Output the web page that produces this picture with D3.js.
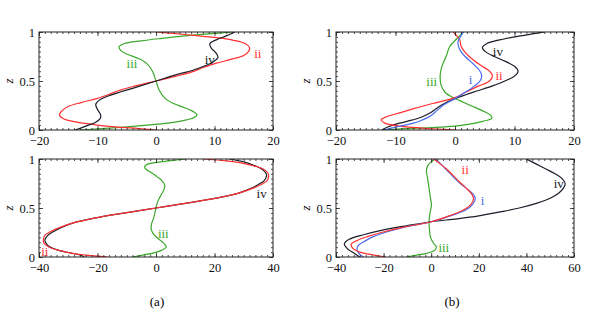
<!DOCTYPE html>
<html>
<head>
<meta charset="utf-8">
<script src="https://cdn.jsdelivr.net/npm/d3@7"></script>
<style>
  body { margin: 0; background: #fff; }
  svg text { font-family: "Liberation Serif", "Times New Roman", "DejaVu Serif", serif !important; }
</style>
</head>
<body>
<div id="chart"></div>
<script>
// each series: [z, value] pairs
var aTop_ii = [[0,0],[0.015,-3],[0.03,-6.5],[0.05,-10],[0.08,-13.5],[0.115,-15.8],[0.155,-16.5],[0.2,-16],[0.24,-15],[0.28,-12.8],[0.32,-10.2],[0.36,-8.2],[0.41,-6],[0.45,-3.5],[0.5,0],
  [0.55,3.5],[0.59,6],[0.64,8.2],[0.68,10.2],[0.72,12.8],[0.76,15],[0.8,15.8],[0.84,16],[0.88,15.3],[0.915,13.3],[0.945,10],[0.965,6.5],[0.985,3],[1,0]];
var aTop_iii = [[0,-13],[0.012,-10],[0.03,-5.5],[0.05,-1.5],[0.07,2],[0.1,5],[0.13,6.6],[0.155,7],[0.19,6.3],[0.23,4.8],[0.27,3],[0.32,1.6],[0.4,0.6],[0.5,0],
  [0.6,-0.6],[0.68,-1.6],[0.73,-3],[0.77,-4.8],[0.81,-6],[0.85,-6.3],[0.88,-5.5],[0.91,-2.5],[0.935,1],[0.96,5],[0.98,9],[1,13.2]];
var aTop_iv = [[0,-13.8],[0.04,-12],[0.08,-10.3],[0.12,-9.5],[0.16,-9.5],[0.21,-10],[0.26,-10.3],[0.3,-9.8],[0.34,-8.5],[0.39,-6],[0.44,-3.2],[0.5,0],
  [0.56,3.2],[0.61,6.3],[0.66,8.6],[0.7,9.9],[0.74,10.6],[0.79,10.2],[0.84,9.4],[0.88,9.2],[0.92,10.3],[0.96,12],[1,13.5]];

var bTop_i = [[0,-12],[0.03,-10],[0.07,-7],[0.1,-5.6],[0.14,-4.2],[0.2,-3],[0.26,-1.8],[0.32,0],[0.38,1.6],[0.45,3.3],[0.5,4.2],[0.55,4.5],[0.6,4.2],
  [0.65,3.5],[0.7,2.6],[0.75,1.7],[0.8,1],[0.85,0.6],[0.9,0.5],[0.95,0.9],[1,1.4]];
var bTop_ii = [[0,0],[0.01,-3],[0.02,-5.5],[0.04,-9.3],[0.07,-11.8],[0.105,-12.4],[0.14,-11.3],[0.18,-9],[0.22,-6.8],[0.27,-3.8],[0.33,0],[0.38,1.6],[0.45,4],
  [0.5,5.8],[0.55,6.3],[0.6,5.8],[0.65,4.6],[0.7,3.4],[0.75,2.4],[0.8,1.6],[0.86,1],[0.92,0.8],[0.96,0.3],[1,-0.3]];
var bTop_iii = [[0,-12],[0.012,-9],[0.025,-4],[0.04,0],[0.06,2.5],[0.09,4.8],[0.12,6.2],[0.15,6],[0.2,4.5],[0.25,2.6],[0.3,0.8],[0.33,-0.3],[0.38,-1.6],
  [0.45,-2.3],[0.55,-2.5],[0.65,-2.2],[0.75,-1.5],[0.85,-0.9],[0.9,-0.2],[0.95,0.6],[1,1.4]];
var bTop_iv = [[0,-12.3],[0.03,-11.3],[0.07,-9.3],[0.1,-7.3],[0.13,-5.7],[0.17,-4.3],[0.22,-3.1],[0.27,-1.8],[0.32,0],[0.36,1.8],[0.4,3.8],[0.45,6.3],
  [0.5,8.4],[0.55,10],[0.6,10.6],[0.65,10],[0.7,8.5],[0.75,6.6],[0.8,5.1],[0.84,4.6],[0.88,5.3],[0.92,7.5],[0.96,11],[0.98,13],[1,15]];

var aBot_ii = [[0,-16.5],[0.02,-24],[0.04,-29],[0.07,-33.5],[0.1,-36.5],[0.14,-38.3],[0.18,-38.5],[0.22,-38],[0.26,-36],[0.3,-33],[0.35,-28],[0.4,-20.5],
  [0.45,-10.5],[0.5,0],[0.55,10.5],[0.6,20.5],[0.65,28],[0.7,33],[0.74,36],[0.78,38],[0.82,38.5],[0.86,38.2],[0.9,36.5],[0.93,33.5],[0.96,29],[0.98,24],[1,16.2]];
var aBot_iii = [[0,-8],[0.02,-4.5],[0.04,-1],[0.07,2],[0.1,3.5],[0.13,3],[0.17,1.5],[0.22,-0.5],[0.28,-1.6],[0.34,-1.5],[0.4,-0.8],[0.5,0],[0.56,0.5],
  [0.62,1.5],[0.68,2.6],[0.73,3],[0.78,2],[0.82,0.3],[0.86,-1.5],[0.89,-3.2],[0.92,-3.9],[0.945,-3],[0.97,1.5],[0.99,7],[1,10.5]];
var aBot_iv = [[0,-24.5],[0.02,-26],[0.04,-29],[0.07,-33.5],[0.1,-36],[0.13,-37.3],[0.17,-38],[0.22,-37],[0.26,-35],[0.3,-32.5],[0.35,-28],[0.4,-20.5],
  [0.45,-10.5],[0.5,0],[0.55,10.5],[0.6,20.5],[0.65,28],[0.7,32.5],[0.74,35],[0.78,37],[0.83,37.8],[0.86,37.5],[0.9,36],[0.94,33],[0.97,30],[1,25]];

var bBot_i = [[0,-28.5],[0.04,-30.5],[0.08,-31.2],[0.12,-30.5],[0.16,-28],[0.2,-25],[0.25,-19.5],[0.3,-12],[0.36,0],[0.42,8],[0.48,14.5],[0.54,17.5],
  [0.6,18.5],[0.65,17.3],[0.7,14.8],[0.75,12.2],[0.8,10],[0.85,8],[0.9,6],[0.95,4],[1,1.7]];
var bBot_ii = [[0,-19],[0.02,-24],[0.05,-30],[0.09,-33],[0.13,-33.6],[0.17,-31],[0.21,-26.5],[0.25,-21],[0.3,-12.5],[0.36,0],[0.42,7.5],[0.48,13.5],
  [0.54,16.8],[0.6,17.8],[0.65,16.8],[0.7,14.8],[0.75,12.6],[0.8,10.5],[0.85,8.5],[0.9,6.3],[0.95,3.8],[1,1]];
var bBot_iii = [[0,-10.5],[0.02,-6],[0.04,-1.5],[0.07,1.5],[0.1,2.2],[0.14,1],[0.2,-0.3],[0.3,-0.8],[0.36,-0.9],[0.45,-0.5],[0.53,0.1],[0.6,-0.3],
  [0.7,-0.9],[0.8,-1.5],[0.88,-2],[0.93,-1.5],[0.97,0],[1,1.7]];
var bBot_iv = [[0,-30],[0.04,-32.5],[0.08,-35],[0.13,-36.5],[0.18,-34.5],[0.23,-28],[0.275,-20.5],[0.32,-10],[0.36,0],[0.39,11],[0.42,20],[0.46,29],
  [0.5,37],[0.55,44.5],[0.6,50],[0.65,53.5],[0.7,55.5],[0.75,56.3],[0.8,55],[0.85,52],[0.9,48],[0.95,44],[1,40]];

var zTicks = [0, 0.5, 1];
var xTicksTop = [-20, -10, 0, 10, 20];
var xTicksBotA = [-40, -20, 0, 20, 40];
var xTicksBotB = [-40, -20, 0, 20, 40, 60];

var colors = { i: "#4a6cf0", ii: "#ff3030", iii: "#3aa82a", iv: "#1c1c28" };

var panels = [
  { left: 39, right: 273, top: 32, bottom: 130, domain: [-20, 20], ticks: xTicksTop, minor: 1,
    series: [["iii", aTop_iii], ["ii", aTop_ii], ["iv", aTop_iv]],
    labels: [["iii", -4.1, 0.68], ["iv", 9.2, 0.72], ["ii", 17.4, 0.78]] },
  { left: 336, right: 574, top: 32, bottom: 130, domain: [-20, 20], ticks: xTicksTop, minor: 1,
    series: [["iii", bTop_iii], ["iv", bTop_iv], ["ii", bTop_ii], ["i", bTop_i]],
    labels: [["iv", 7.2, 0.80], ["ii", 7.4, 0.56], ["i", 2.6, 0.52], ["iii", -3.9, 0.49]] },
  { left: 39, right: 273, top: 159, bottom: 257, domain: [-40, 40], ticks: xTicksBotA, minor: 2,
    series: [["iii", aBot_iii], ["iv", aBot_iv], ["ii", aBot_ii]],
    labels: [["iv", 36.1, 0.65], ["iii", 2.5, 0.235], ["ii", -38, 0.055]] },
  { left: 336, right: 574, top: 159, bottom: 257, domain: [-40, 60], ticks: xTicksBotB, minor: 2.5,
    series: [["iii", bBot_iii], ["iv", bBot_iv], ["i", bBot_i], ["ii", bBot_ii]],
    labels: [["ii", 14.3, 0.89], ["i", 21.6, 0.58], ["iv", 53.6, 0.75], ["iii", 5.3, 0.095]] }
];

var serif = "'Liberation Serif', 'Times New Roman', 'DejaVu Serif', serif";

var svg = d3.select("#chart").append("svg")
  .attr("width", 610)
  .attr("height", 316)
  .style("font-family", serif);

var fmt = d3.format("");

panels.forEach(function(p, k) {
  var x = d3.scaleLinear().domain(p.domain).range([p.left, p.right]),
      y = d3.scaleLinear().domain([0, 1]).range([p.bottom, p.top]);
  var minorX = d3.range(p.domain[0], p.domain[1] + 1e-9, p.minor),
      minorZ = d3.range(0, 1.0001, 0.05);

  var g = svg.append("g");

  svg.append("clipPath").attr("id", "clip" + k)
    .append("rect")
    .attr("x", p.left).attr("y", p.top)
    .attr("width", p.right - p.left).attr("height", p.bottom - p.top);

  var line = d3.line()
    .x(function(d) { return x(d[1]); })
    .y(function(d) { return y(d[0]); })
    .curve(d3.curveCatmullRom);

  g.append("g").attr("clip-path", "url(#clip" + k + ")")
    .selectAll("path")
    .data(p.series)
    .join("path")
      .attr("fill", "none")
      .attr("stroke", function(d) { return colors[d[0]]; })
      .attr("stroke-width", 1.2)
      .attr("d", function(d) { return line(d[1]); });

  // frame ticks (inward on all four sides)
  function minorAxis(axis, vals, tr) {
    g.append("g").attr("transform", tr)
      .call(axis.tickValues(vals).tickSize(-2).tickFormat(""));
  }
  minorAxis(d3.axisBottom(x), minorX, "translate(0," + p.bottom + ")");
  minorAxis(d3.axisTop(x), minorX, "translate(0," + p.top + ")");
  minorAxis(d3.axisLeft(y), minorZ, "translate(" + p.left + ",0)");
  minorAxis(d3.axisRight(y), minorZ, "translate(" + p.right + ",0)");

  g.append("g").attr("transform", "translate(0," + p.bottom + ")")
    .call(d3.axisBottom(x).tickValues(p.ticks).tickSize(-4).tickPadding(6).tickFormat(fmt));
  g.append("g").attr("transform", "translate(0," + p.top + ")")
    .call(d3.axisTop(x).tickValues(p.ticks).tickSize(-4).tickFormat(""));
  g.append("g").attr("transform", "translate(" + p.left + ",0)")
    .call(d3.axisLeft(y).tickValues(zTicks).tickSize(-4).tickPadding(4).tickFormat(fmt));
  g.append("g").attr("transform", "translate(" + p.right + ",0)")
    .call(d3.axisRight(y).tickValues(zTicks).tickSize(-4).tickFormat(""));

  g.selectAll(".domain").remove();
  g.selectAll(".tick line").attr("stroke", "#222").attr("stroke-width", 0.8);
  g.selectAll("g").attr("font-family", null).attr("font-size", null);
  g.selectAll(".tick text")
    .style("font-family", serif)
    .attr("font-size", 12.5)
    .attr("fill", "#111");

  g.append("rect")
    .attr("x", p.left).attr("y", p.top)
    .attr("width", p.right - p.left).attr("height", p.bottom - p.top)
    .attr("fill", "none")
    .attr("stroke", "#222")
    .attr("stroke-width", 1);

  g.append("text")
    .attr("transform", "translate(" + (p.left - 31) + "," + ((p.top + p.bottom) / 2) + ") rotate(-90)")
    .attr("text-anchor", "middle")
    .attr("dominant-baseline", "central")
    .attr("font-size", 13)
    .attr("font-style", "italic")
    .text("z");

  g.selectAll(".curve-label")
    .data(p.labels)
    .join("text")
      .attr("class", "curve-label")
      .attr("x", function(d) { return x(d[1]); })
      .attr("y", function(d) { return y(d[2]); })
      .attr("text-anchor", "middle")
      .attr("dominant-baseline", "central")
      .attr("font-size", 13)
      .attr("fill", function(d) { return colors[d[0]]; })
      .text(function(d) { return d[0]; });
});

svg.append("text").attr("x", 157).attr("y", 306).attr("text-anchor", "middle").attr("font-size", 13).text("(a)");
svg.append("text").attr("x", 452).attr("y", 306).attr("text-anchor", "middle").attr("font-size", 13).text("(b)");
</script>
</body>
</html>
